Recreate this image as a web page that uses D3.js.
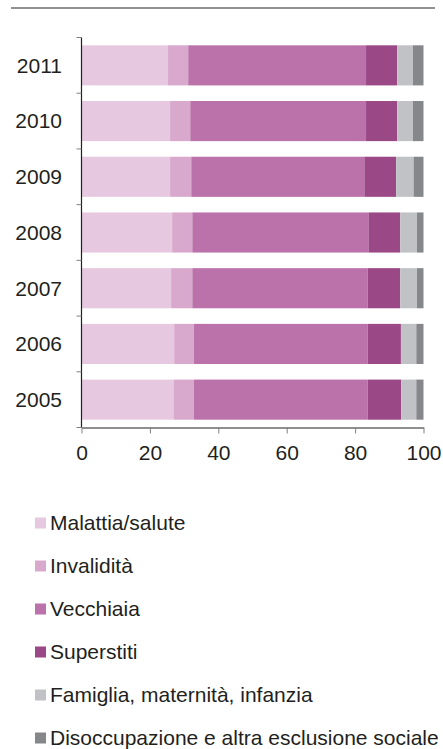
<!DOCTYPE html>
<html>
<head>
<meta charset="utf-8">
<script src="https://cdn.jsdelivr.net/npm/d3@7"></script>
<style>
  html, body { margin: 0; padding: 0; background: #fff; }
  svg { display: block; font-family: "Liberation Sans", Arial, sans-serif; }
</style>
</head>
<body>
<svg id="chart" width="443" height="749"></svg>
<script>
const years = ["2011", "2010", "2009", "2008", "2007", "2006", "2005"];
const seriesNames = ["Malattia/salute", "Invalidità", "Vecchiaia", "Superstiti", "Famiglia, maternità, infanzia", "Disoccupazione e altra esclusione sociale"];
const malattia      = [25.3, 25.9, 25.9, 26.5, 26.2, 27.1, 26.9];
const invalidita    = [5.9, 5.9, 6.2, 5.9, 6.2, 5.8, 6.0];
const vecchiaia     = [52.0, 51.4, 50.6, 51.5, 51.3, 50.8, 50.8];
const superstiti    = [9.1, 9.1, 9.3, 9.3, 9.5, 9.7, 9.8];
const famiglia      = [4.6, 4.6, 5.1, 4.9, 4.9, 4.5, 4.4];
const disoccupazione= [3.1, 3.1, 2.9, 1.9, 1.9, 2.1, 2.1];
const colors = ["#e6c9e0", "#d9a9cd", "#bb72ab", "#9b4887", "#c1c2c6", "#86878b"];
const xTicks = [0, 20, 40, 60, 80, 100];

const seriesValues = [malattia, invalidita, vecchiaia, superstiti, famiglia, disoccupazione];
const rows = years.map((y, i) => {
  const r = { year: y };
  seriesNames.forEach((s, k) => r[s] = seriesValues[k][i]);
  return r;
});
const stacked = d3.stack().keys(seriesNames)(rows);

const FS = 21;
const svg = d3.select("#chart");

// top rule
svg.append("line")
  .attr("x1", 11).attr("x2", 435).attr("y1", 8).attr("y2", 8)
  .attr("stroke", "#6d6e71").attr("stroke-width", 1.6);

const x = d3.scaleLinear().domain([0, 100]).range([81.5, 423.5]);
const y = d3.scaleBand().domain(years).range([37.5, 427.5]).paddingInner(0.28).paddingOuter(0.14);

// bars
const g = svg.append("g");
g.selectAll("g.series").data(stacked).join("g")
  .attr("fill", (d, i) => colors[i])
  .selectAll("rect").data(d => d).join("rect")
  .attr("x", d => x(d[0]))
  .attr("width", d => x(d[1]) - x(d[0]))
  .attr("y", d => y(d.data.year))
  .attr("height", y.bandwidth());

// y axis: line + ticks at category boundaries
const yAxisG = svg.append("g");
yAxisG.append("line")
  .attr("x1", x(0)).attr("x2", x(0))
  .attr("y1", y.range()[0]).attr("y2", y.range()[1])
  .attr("stroke", "#231f20").attr("stroke-width", 1.2);
const boundaries = d3.range(years.length + 1).map(i => y.range()[0] + i * y.step());
yAxisG.selectAll("line.tick").data(boundaries).join("line")
  .attr("class", "tick")
  .attr("x1", x(0) - 5).attr("x2", x(0))
  .attr("y1", d => d).attr("y2", d => d)
  .attr("stroke", "#808080").attr("stroke-width", 1);
yAxisG.selectAll("text").data(years).join("text")
  .attr("x", 62)
  .attr("y", d => y(d) + y.bandwidth() / 2)
  .attr("dy", "0.35em")
  .attr("text-anchor", "end")
  .attr("font-size", FS)
  .attr("fill", "#231f20")
  .text(d => d);

// x axis
const xAxis = d3.axisBottom(x).tickValues(xTicks).tickSize(6).tickPadding(11.5).tickSizeOuter(0);
const xg = svg.append("g").attr("transform", `translate(0,${y.range()[1]})`).call(xAxis);
xg.select(".domain").attr("stroke", "#231f20").attr("stroke-width", 1.2);
xg.selectAll(".tick line").attr("stroke", "#808080");
xg.selectAll(".tick text")
  .attr("font-size", FS)
  .attr("font-family", "Liberation Sans, Arial, sans-serif")
  .attr("fill", "#231f20");

// legend
const legend = svg.append("g");
const legendY = d3.scalePoint().domain(seriesNames).range([523, 738]);
const items = legend.selectAll("g").data(seriesNames).join("g")
  .attr("transform", d => `translate(0,${legendY(d)})`);
items.append("rect")
  .attr("x", 35).attr("y", -5.5).attr("width", 11).attr("height", 11)
  .attr("fill", (d, i) => colors[i]);
items.append("text")
  .attr("x", 50).attr("y", 0).attr("dy", "0.35em")
  .attr("font-size", FS)
  .attr("fill", "#231f20")
  .text(d => d);
</script>
</body>
</html>
